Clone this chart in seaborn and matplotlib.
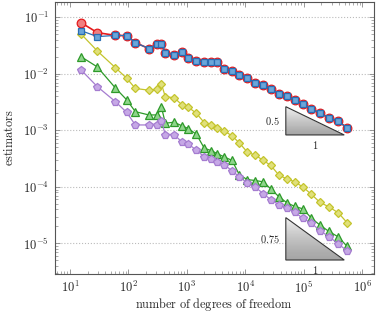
import numpy as np
import pandas as pd
import seaborn as sns
import matplotlib
import matplotlib.pyplot as plt
from matplotlib.ticker import LogLocator, FuncFormatter, NullFormatter
from matplotlib.patches import Polygon

sns.set_style('ticks')
matplotlib.rcParams['mathtext.fontset'] = 'cm'
matplotlib.rcParams['font.family'] = ['DejaVu Serif']

# data
dofs = [15.4, 29.3, 59.7, 93.5, 131, 223, 313, 366, 428, 604, 828, 1062,
        1460, 1986, 2618, 3327, 4365, 5937, 7921, 10860, 14830, 20400,
        27330, 37940, 52010, 70440, 97760, 134000, 188700, 270400,
        392900, 553300]

est_blue = [0.0583, 0.0457, 0.0480, 0.0476, 0.0358, 0.0281, 0.0340, 0.0340,
            0.0236, 0.0216, 0.0240, 0.0188, 0.0171, 0.0163, 0.0163, 0.0163,
            0.0122, 0.0114, 0.00968, 0.00849, 0.00684, 0.00638, 0.00538,
            0.00448, 0.00400, 0.00342, 0.00295, 0.00243, 0.00202, 0.00167,
            0.00144, 0.00111]
est_red = [0.0809, 0.0538] + est_blue[2:]

est_yellow = [0.0511, 0.0255, 0.0129, 0.00839, 0.00553, 0.00515, 0.00536,
              0.00665, 0.00392, 0.00381, 0.00282, 0.00257, 0.00200, 0.00137,
              0.00125, 0.00109, 0.00098, 0.00080, 0.00060, 4.11e-4, 3.64e-4,
              2.94e-4, 2.40e-4, 1.60e-4, 1.39e-4, 1.23e-4, 9.88e-5, 7.46e-5,
              5.36e-5, 4.43e-5, 3.47e-5, 2.32e-5]

est_green = [0.0202, 0.0133, 0.00565, 0.00347, 0.00215, 0.00188, 0.00188,
             0.00261, 0.00134, 0.00140, 0.00120, 0.00108, 8.49e-4, 4.84e-4,
             4.39e-4, 3.87e-4, 3.40e-4, 2.94e-4, 1.63e-4, 1.35e-4, 1.30e-4,
             1.23e-4, 9.22e-5, 6.65e-5, 5.21e-5, 4.52e-5, 4.08e-5, 2.83e-5,
             2.12e-5, 1.63e-5, 1.30e-5, 8.85e-6]

est_purple = [0.0118, 0.00596, 0.00324, 0.00208, 0.00125, 0.00125, 0.00125,
              0.00149, 8.32e-4, 8.43e-4, 6.21e-4, 5.73e-4, 4.47e-4, 3.40e-4,
              3.09e-4, 2.77e-4, 2.45e-4, 1.94e-4, 1.50e-4, 1.18e-4, 9.88e-5,
              7.60e-5, 5.95e-5, 4.86e-5, 4.20e-5, 3.54e-5, 2.77e-5, 2.31e-5,
              1.69e-5, 1.32e-5, 9.80e-6, 7.36e-6]

# slope triangles: (x0, x1, y_bottom, slope)
tri_upper = (49300, 493000, 8.32e-4, 0.5)
tri_lower = (49300, 493000, 5.10e-6, 0.75)

fig = plt.figure(figsize=(3.76, 3.16), dpi=100)
ax = fig.add_axes([0.145, 0.132, 0.85, 0.862])

series = [
    (est_red, 'o', '#e41a1c', '#f07f80', 6.2, 1.2, 2.0),
    (est_blue, 's', '#2a6db3', '#6aa6da', 5.0, 0.9, 2.5),
    (est_yellow, 'D', '#c4c42c', '#e0e07a', 4.0, 0.9, 2.1),
    (est_green, '^', '#2e9a2a', '#8fd58b', 5.3, 0.9, 2.1),
    (est_purple, 'p', '#a57cd0', '#c6a8e6', 6.0, 0.9, 2.1),
]
for vals, mk, edge, face, ms, lw, z in series:
    sns.lineplot(x=dofs, y=vals, ax=ax, sort=False, estimator=None,
                 color=edge, linewidth=lw, marker=mk, markersize=ms,
                 markerfacecolor=face, markeredgecolor=edge,
                 markeredgewidth=0.9, zorder=z)

ax.set_xscale('log')
ax.set_yscale('log')

# slope triangles with a grey shading
grad = np.linspace(0, 1, 64).reshape(-1, 1)
for x0, x1, yb, s in [tri_upper, tri_lower]:
    yt = yb * 10 ** (s * np.log10(x1 / x0))
    pts = [(x0, yt), (x0, yb), (x1, yb)]
    poly = Polygon(pts, closed=True, facecolor='none', edgecolor='#333333',
                   linewidth=0.8, zorder=4)
    ax.add_patch(poly)
    img = ax.imshow(grad, cmap='Greys', vmin=-0.3, vmax=2.6, aspect='auto',
                    extent=[x0, x1, yb, yt], origin='upper', zorder=3)
    img.set_clip_path(poly)
    xm = np.sqrt(x0 * x1)
    ym = np.sqrt(yb * yt)
    ax.text(x0 / 1.25, ym, r'$%s$' % s, ha='right', va='center', fontsize=7.5)
    ax.text(xm, yb / 1.2, r'$1$', ha='center', va='top', fontsize=7.5)

ax.set_xlim(5.43, 1.6e6)
ax.set_ylim(2.85e-6, 0.188)

fmt = FuncFormatter(lambda v, p: r'$10^{%d}$' % round(np.log10(v)))
ax.xaxis.set_major_locator(LogLocator(base=10, numticks=20))
ax.yaxis.set_major_locator(LogLocator(base=10, numticks=20))
ax.xaxis.set_minor_locator(LogLocator(base=10, subs=np.arange(2, 10), numticks=20))
ax.yaxis.set_minor_locator(LogLocator(base=10, subs=np.arange(2, 10), numticks=20))
ax.xaxis.set_major_formatter(fmt)
ax.yaxis.set_major_formatter(fmt)
ax.xaxis.set_minor_formatter(NullFormatter())
ax.yaxis.set_minor_formatter(NullFormatter())

ax.tick_params(which='both', direction='in', top=True, right=True,
               color='#888888', labelsize=9)
ax.tick_params(which='major', length=3.5, width=0.6, pad=4)
ax.tick_params(which='minor', length=2, width=0.5)
ax.grid(axis='y', which='major', linestyle=':', color='#bbbbbb', linewidth=0.8)
for sp in ax.spines.values():
    sp.set_color('#555555')
    sp.set_linewidth(0.8)

ax.set_xlabel(r'$\mathrm{number\ of\ degrees\ of\ freedom}$', fontsize=8.8, labelpad=0)
ax.set_ylabel(r'$\mathrm{estimators}$', fontsize=8.8, labelpad=5)

plt.savefig('out.png', dpi=100)
